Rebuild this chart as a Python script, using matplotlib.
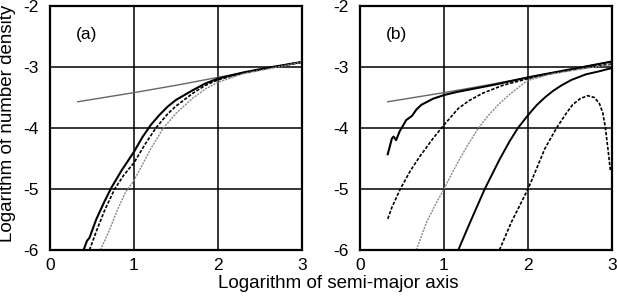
import numpy as np
import matplotlib
matplotlib.use("Agg")
from matplotlib import pyplot as plt

plt.rcParams['font.family'] = ['Liberation Sans', 'DejaVu Sans']
plt.rcParams['axes.unicode_minus'] = False

# reference line (both panels)
ref_x = [0.33, 1.0, 1.5, 2.0, 2.5, 3.0]
ref_y = [-3.57, -3.42, -3.30, -3.17, -3.04, -2.91]

# panel (a)
a_solid_x = [0.40, 0.44, 0.47, 0.55, 0.65, 0.73, 0.85, 1.0, 1.1, 1.2, 1.3, 1.4, 1.5, 1.7, 1.85, 2.0, 2.3, 2.6, 3.0]
a_solid_y = [-6.0, -5.85, -5.8, -5.5, -5.2, -4.98, -4.7, -4.39, -4.15, -3.95, -3.79, -3.65, -3.54, -3.38, -3.27, -3.19, -3.09, -3.01, -2.92]
a_dash_x = [0.47, 0.55, 0.65, 0.77, 0.88, 1.0, 1.13, 1.26, 1.4, 1.5, 1.7, 1.85, 2.0, 2.3, 2.6, 3.0]
a_dash_y = [-6.0, -5.7, -5.35, -5.0, -4.77, -4.57, -4.27, -4.0, -3.77, -3.64, -3.43, -3.3, -3.21, -3.1, -3.02, -2.92]
a_dot_x = [0.6, 0.7, 0.8, 0.9, 1.0, 1.1, 1.2, 1.35, 1.5, 1.7, 1.85, 2.0, 2.3, 2.6, 3.0]
a_dot_y = [-6.0, -5.7, -5.35, -5.05, -4.86, -4.6, -4.34, -4.0, -3.76, -3.51, -3.36, -3.25, -3.11, -3.03, -2.92]

# panel (b)
b1_x = [0.33, 0.38, 0.40, 0.43, 0.47, 0.55, 0.62, 0.67, 0.73, 0.8, 0.87, 1.0, 1.15, 1.3, 1.6, 2.0, 2.5, 3.0]
b1_y = [-4.43, -4.17, -4.14, -4.2, -4.06, -3.87, -3.8, -3.7, -3.62, -3.57, -3.52, -3.46, -3.41, -3.37, -3.29, -3.17, -3.04, -2.91]
b2_x = [0.33, 0.38, 0.48, 0.6, 0.71, 0.87, 1.0, 1.17, 1.3, 1.46, 1.7, 2.0, 2.3, 2.6, 3.0]
b2_y = [-5.49, -5.3, -5.0, -4.7, -4.47, -4.17, -3.95, -3.68, -3.55, -3.43, -3.3, -3.19, -3.1, -3.03, -2.95]
b3_x = [0.67, 0.79, 0.9, 1.0, 1.1, 1.19, 1.3, 1.41, 1.53, 1.66, 1.78, 1.9, 2.0, 2.26, 2.6, 3.0]
b3_y = [-6.0, -5.55, -5.25, -5.0, -4.73, -4.5, -4.24, -4.0, -3.79, -3.6, -3.45, -3.32, -3.22, -3.12, -3.04, -2.96]
b4_x = [1.17, 1.3, 1.485, 1.66, 1.78, 1.88, 2.0, 2.1, 2.2, 2.3, 2.4, 2.52, 2.69, 2.85, 2.96, 3.0]
b4_y = [-6.0, -5.58, -5.0, -4.52, -4.22, -4.0, -3.79, -3.63, -3.5, -3.39, -3.3, -3.21, -3.12, -3.07, -3.03, -3.02]
b5_x = [1.66, 1.8, 2.0, 2.08, 2.2, 2.34, 2.45, 2.53, 2.62, 2.71, 2.79, 2.85, 2.89, 2.92, 2.96, 2.98]
b5_y = [-6.0, -5.55, -5.0, -4.74, -4.34, -4.0, -3.77, -3.62, -3.52, -3.47, -3.5, -3.6, -3.75, -3.98, -4.44, -4.69]

fig = plt.figure(figsize=(6.17, 2.99), dpi=100)
axa = fig.add_axes([50/617, 49/299, 252/617, 244/299])
axb = fig.add_axes([360/617, 49/299, 252/617, 244/299])

for ax in (axa, axb):
    ax.set_xlim(0, 3)
    ax.set_ylim(-6, -2)
    ax.set_xticks([0, 1, 2, 3])
    ax.set_yticks([-6, -5, -4, -3, -2])
    ax.grid(True, color='black', lw=1.1)
    ax.tick_params(length=0, labelsize=12.5)
    ax.tick_params(axis='y', pad=8)
    ax.tick_params(axis='x', pad=6)
    for s in ax.spines.values():
        s.set_linewidth(1.6)
    ax.plot(ref_x, ref_y, color='#666666', lw=1.0)

axa.plot(a_solid_x, a_solid_y, color='black', lw=1.5)
axa.plot(a_dash_x, a_dash_y, color='black', lw=1.2, ls=(0, (2, 1)))
axa.plot(a_dot_x, a_dot_y, color='#888888', lw=1.0, ls=(0, (1.5, 0.8)))
axa.text(0.44, -2.47, '(a)', fontsize=12.5, ha='center', va='center')

axb.plot(b1_x, b1_y, color='black', lw=1.5)
axb.plot(b2_x, b2_y, color='black', lw=1.2, ls=(0, (2, 1)))
axb.plot(b3_x, b3_y, color='#888888', lw=1.0, ls=(0, (1.5, 0.8)))
axb.plot(b4_x, b4_y, color='black', lw=1.4)
axb.plot(b5_x, b5_y, color='black', lw=1.2, ls=(0, (2, 1)))
axb.text(0.44, -2.47, '(b)', fontsize=12.5, ha='center', va='center')

fig.text(8/617, 1 - 123/299, 'Logarithm of number density', fontsize=13.5,
         rotation=90, ha='center', va='center')
fig.text(338/617, 1 - 283/299, 'Logarithm of semi-major axis', fontsize=13.5,
         ha='center', va='center')

fig.savefig('out.png', dpi=100)
